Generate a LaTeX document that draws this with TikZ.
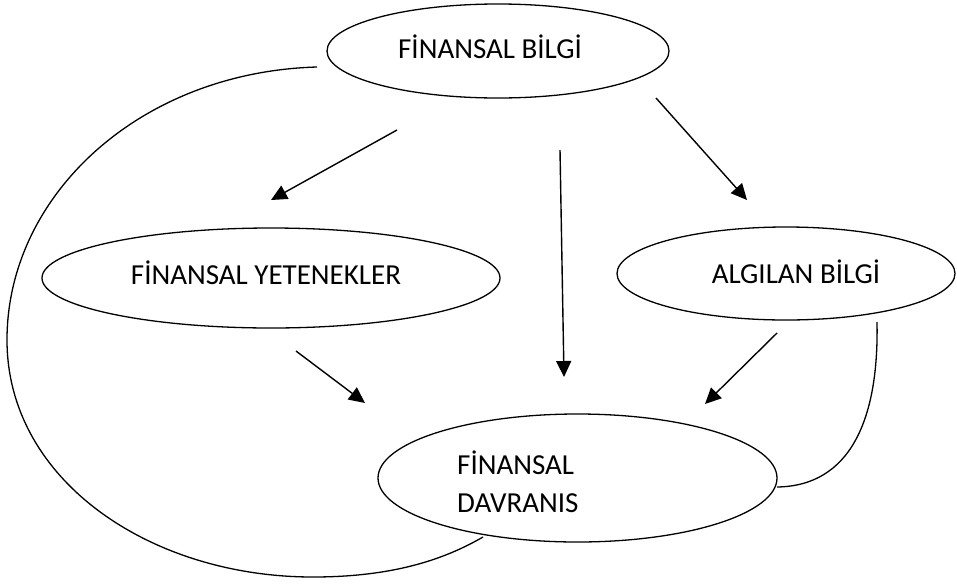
\documentclass[tikz,border=0pt]{standalone}
\usepackage{fontspec}
\setmainfont{Carlito}
\usetikzlibrary{arrows.meta,shapes.geometric}
\begin{document}
\begin{tikzpicture}[x=1pt,y=-1pt,
  oval/.style={draw,ellipse,line width=1.3pt,inner sep=0pt},
  lbl/.style={font=\fontsize{29}{34}\selectfont,inner sep=0pt,anchor=center},
  arr/.style={line width=1.4pt,-{Triangle[length=16pt,width=15pt]}},
  link/.style={line width=1.3pt}]
\useasboundingbox (0,0) rectangle (957,584);
% ovals
\node[oval,minimum width=342pt,minimum height=94pt] (B) at (498,51) {};
\node[oval,minimum width=458pt,minimum height=100pt] (Y) at (271,278) {};
\node[oval,minimum width=338pt,minimum height=93pt] (A) at (786,273.5) {};
\node[oval,minimum width=399pt,minimum height=128pt] (D) at (577.5,478) {};
% texts
\node[lbl] (tB) at (490,47) {FİNANSAL BİLGİ};
\node[lbl] (tY) at (266,273) {FİNANSAL YETENEKLER};
\node[lbl] (tA) at (796,272) {ALGILAN BİLGİ};
\node[lbl,anchor=west] (tD1) at (457,463) {FİNANSAL};
\node[lbl,anchor=west] (tD2) at (457,503) {DAVRANIS};
% arrow endpoints
\coordinate (a1s) at (397,130); \coordinate (a1e) at (271,200);
\coordinate (a2s) at (560,150); \coordinate (a2e) at (564,377);
\coordinate (a3s) at (656,98);  \coordinate (a3e) at (747,200);
\coordinate (a4s) at (296,351); \coordinate (a4e) at (365,403);
\coordinate (a5s) at (777,333); \coordinate (a5e) at (705,404);
\draw[arr] (a1s) -- (a1e);
\draw[arr] (a2s) -- (a2e);
\draw[arr] (a3s) -- (a3e);
\draw[arr] (a4s) -- (a4e);
\draw[arr] (a5s) -- (a5e);
% curved links
\coordinate (l1s) at (317,67);
\coordinate (l1m) at (7,340);
\coordinate (l1b) at (313,577);
\coordinate (l1e) at (483,537);
\draw[link] (l1s) .. controls (140,72) and (7,195) .. (l1m)
  .. controls (7,480) and (150,577) .. (l1b)
  .. controls (400,577) and (450,556) .. (l1e);
\coordinate (l2s) at (877,322);
\coordinate (l2e) at (777,487);
\draw[link] (l2s) .. controls (879,420) and (850,486) .. (l2e);
\end{tikzpicture}
\end{document}
